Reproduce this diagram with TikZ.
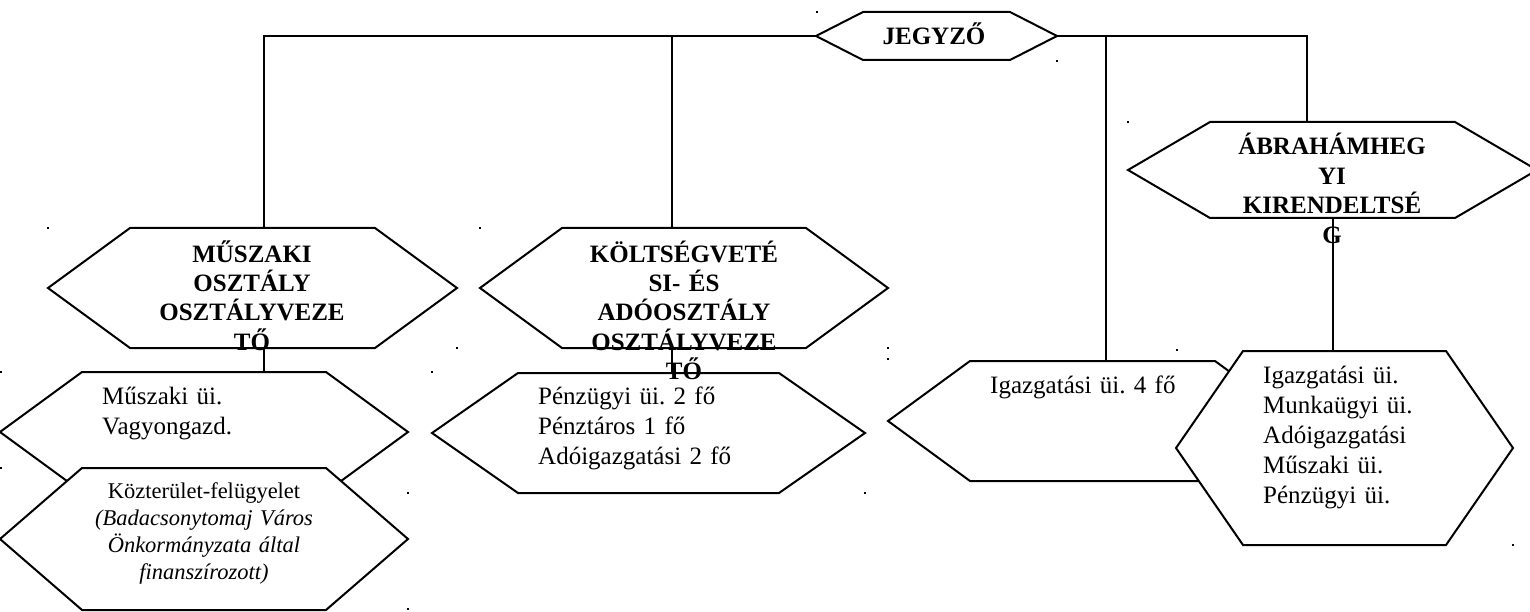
\documentclass[tikz,border=0pt]{standalone}
\usepackage{fontspec}
\setmainfont{Liberation Serif}
\frenchspacing
\tikzset{
  hexline/.style={draw=black, line width=2pt, line join=miter},
  hexbox/.style={inner sep=0pt, outer sep=0pt, draw=none, rectangle},
  conn/.style={draw=black, line width=2pt},
  headtxt/.style={font=\fontsize{25}{29.4}\selectfont\bfseries\frenchspacing, text width=300pt, align=center, anchor=base, inner sep=0pt},
  listtxt/.style={font=\fontsize{25}{30}\selectfont\frenchspacing, text width=260pt, align=left, anchor=base west, inner sep=0pt},
  smalltxt/.style={font=\fontsize{22.5}{27}\selectfont\frenchspacing, text width=300pt, align=center, anchor=base, inner sep=0pt},
  speck/.style={fill=black},
}
\newcommand\hexshape[7]{%
  \node[hexbox, minimum width={(#4)-(#2)}, minimum height={(#5)-(#3)}] (#1) at ({((#2)+(#4))/2},{((#3)+(#5))/2}) {};
  \path[hexline,fill=#7] (#1.west) -- ([xshift=#6pt]#1.north west) -- ([xshift=-#6pt]#1.north east) -- (#1.east) -- ([xshift=-#6pt]#1.south east) -- ([xshift=#6pt]#1.south west) -- cycle;
}
\begin{document}
\begin{tikzpicture}[x=1pt,y=-1pt]
\useasboundingbox (0,0) rectangle (1530,612);
\clip (0,0) rectangle (1530,612);
% connector anchor columns
\coordinate (mCol) at (264,0);
\coordinate (kCol) at (672,0);
\coordinate (iCol) at (1106,0);
\coordinate (aCol) at (1307,0);
\coordinate (alCol) at (1333,0);
% hexagons
\hexshape{jegyzo}{816}{12}{1057}{60}{47}{none}
\hexshape{musz}{48}{228}{457}{348}{82}{none}
\hexshape{kolt}{480}{228}{888}{348}{82}{none}
\hexshape{abr}{1128}{122}{1537}{218}{82}{none}
\hexshape{penz}{432}{373}{865}{493}{86}{none}
\hexshape{muszui}{0}{372}{408}{492}{82}{none}
\hexshape{kozt}{0}{468}{408}{610}{82}{white}
\hexshape{igaz}{888}{361}{1297}{481}{82}{none}
\hexshape{abrlow}{1176}{351}{1513}{545}{67}{white}
% connectors
\draw[conn] (jegyzo.west) -| (musz.north -| mCol);
\draw[conn] (jegyzo.west -| kCol) -- (kolt.north -| kCol);
\draw[conn] (jegyzo.east) -| (abr.north -| aCol);
\draw[conn] (jegyzo.east -| iCol) -- (igaz.north -| iCol);
\draw[conn] (musz.south -| mCol) -- (muszui.north -| mCol);
\draw[conn] (kolt.south -| kCol) -- (penz.north -| kCol);
\draw[conn] (abr.south -| alCol) -- (abrlow.north -| alCol);
% specks
\foreach \a/\b in {816/11,1056/60,1127/121,47/227,456/347,479/227,887/347,887/358,0/371,431/371,407/492,864/492,0/467,407/608,1176/349,1512/544}
  \fill[speck] (\a,\b) rectangle ++(2.4,2.4);
% texts
\node[font=\fontsize{25}{29.4}\selectfont\bfseries, anchor=base, inner sep=0pt] (tj) at (934,45) {JEGYZŐ};
\node[headtxt] (tm) at (252,262) {MŰSZAKI\\OSZTÁLY\\OSZTÁLYVEZE\\TŐ};
\node[headtxt] (tk) at (684,262) {KÖLTSÉGVETÉ\\SI- ÉS\\ADÓOSZTÁLY\\OSZTÁLYVEZE\\TŐ};
\node[headtxt] (ta) at (1332,155) {ÁBRAHÁMHEG\\YI\\KIRENDELTSÉ\\G};
\node[listtxt] (tmu) at (102,404) {Műszaki üi.\\Vagyongazd.};
\node[listtxt] (tp) at (538,404) {Pénzügyi üi. 2 fő\\Pénztáros 1 fő\\Adóigazgatási 2 fő};
\node[listtxt] (ti) at (990,393) {Igazgatási üi. 4 fő};
\node[listtxt] (tal) at (1263,383) {Igazgatási üi.\\Munkaügyi üi.\\Adóigazgatási\\Műszaki üi.\\Pénzügyi üi.};
\node[smalltxt] (tkz) at (204,498) {Közterület-felügyelet\\\textit{(Badacsonytomaj Város}\\\textit{Önkormányzata által}\\\textit{finanszírozott)}};
\end{tikzpicture}
\end{document}
